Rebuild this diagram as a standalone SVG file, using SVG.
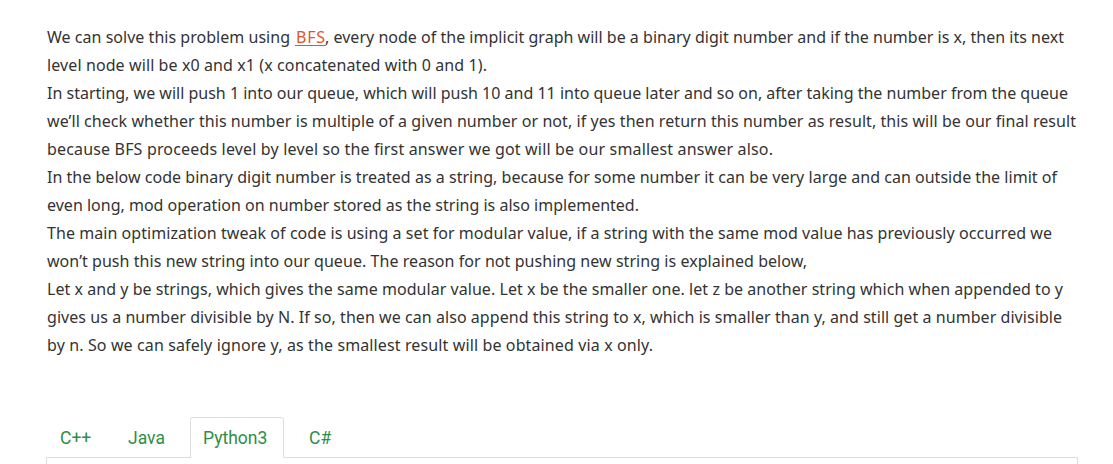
<svg xmlns="http://www.w3.org/2000/svg" width="1113" height="464" viewBox="0 0 1113 464">
<style>
.t{font-family:"Noto Sans","Liberation Sans",sans-serif;font-size:16px;fill:#333333}
.lnk{fill:#e0552b}
.tab{font-family:Roboto,"Noto Sans","Liberation Sans",sans-serif;font-size:17.5px;fill:#2f8d46}
</style>
<rect width="1113" height="464" fill="#ffffff"/>
<g id="paragraph">
<text class="t" x="47" y="43" textLength="243" lengthAdjust="spacing">We can solve this problem using</text>
<text class="t lnk" x="296" y="43" textLength="29" lengthAdjust="spacing">BFS</text>
<line x1="295" y1="45.5" x2="326" y2="45.5" stroke="#e0552b" stroke-width="1"/>
<text class="t" x="325" y="43" textLength="739" lengthAdjust="spacing">, every node of the implicit graph will be a binary digit number and if the number is x, then its next</text>
<text class="t" x="47" y="71" textLength="440" lengthAdjust="spacing">level node will be x0 and x1 (x concatenated with 0 and 1).</text>
<text class="t" x="47" y="99" textLength="1021" lengthAdjust="spacing">In starting, we will push 1 into our queue, which will push 10 and 11 into queue later and so on, after taking the number from the queue</text>
<text class="t" x="47" y="127" textLength="1029" lengthAdjust="spacing">we’ll check whether this number is multiple of a given number or not, if yes then return this number as result, this will be our final result</text>
<text class="t" x="47" y="155" textLength="726" lengthAdjust="spacing">because BFS proceeds level by level so the first answer we got will be our smallest answer also.</text>
<text class="t" x="47" y="183" textLength="1010" lengthAdjust="spacing">In the below code binary digit number is treated as a string, because for some number it can be very large and can outside the limit of</text>
<text class="t" x="47" y="211" textLength="592" lengthAdjust="spacing">even long, mod operation on number stored as the string is also implemented.</text>
<text class="t" x="47" y="239" textLength="1005" lengthAdjust="spacing">The main optimization tweak of code is using a set for modular value, if a string with the same mod value has previously occurred we</text>
<text class="t" x="47" y="267" textLength="760" lengthAdjust="spacing">won’t push this new string into our queue. The reason for not pushing new string is explained below,</text>
<text class="t" x="47" y="295" textLength="1016" lengthAdjust="spacing">Let x and y be strings, which gives the same modular value. Let x be the smaller one. let z be another string which when appended to y</text>
<text class="t" x="47" y="323" textLength="1015" lengthAdjust="spacing">gives us a number divisible by N. If so, then we can also append this string to x, which is smaller than y, and still get a number divisible</text>
<text class="t" x="47" y="351" textLength="606" lengthAdjust="spacing">by n. So we can safely ignore y, as the smallest result will be obtained via x only.</text>
</g>
<g id="code-panel">
<path d="M46.5 464 V457.5 H190.5 M283.5 457.5 H1077.5 V464" fill="none" stroke="#dddddd" stroke-width="1"/>
<path d="M190.5 457.5 V419.5 Q190.5 417.5 192.5 417.5 H281.5 Q283.5 417.5 283.5 419.5 V457.5" fill="#ffffff" stroke="#dddddd" stroke-width="1"/>
</g>
<g id="tab-cpp"><text class="tab" x="60" y="444">C++</text></g>
<g id="tab-java"><text class="tab" x="128" y="444">Java</text></g>
<g id="tab-python3"><text class="tab" x="203" y="444">Python3</text></g>
<g id="tab-csharp"><text class="tab" x="309" y="444">C#</text></g>
</svg>
